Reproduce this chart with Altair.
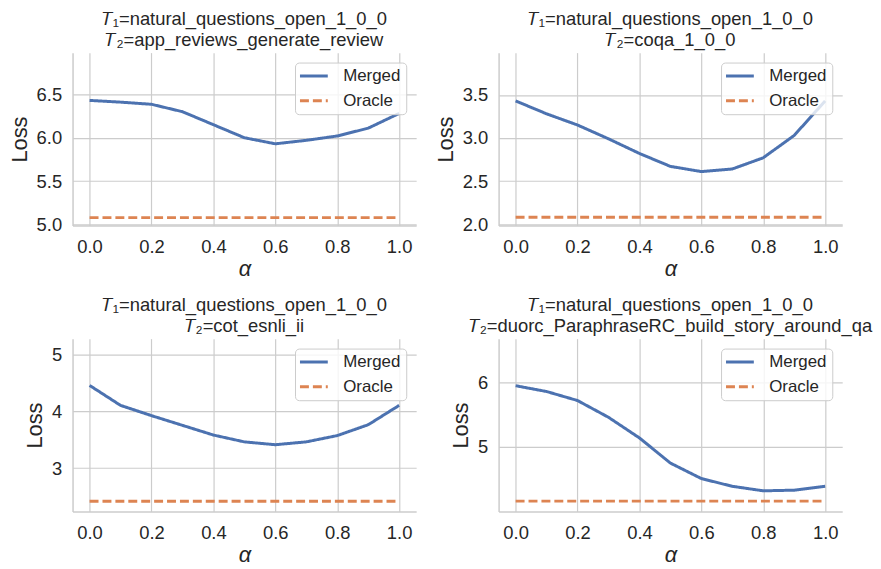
import altair as alt
import pandas as pd

alphas = [0.0, 0.1, 0.2, 0.3, 0.4, 0.5, 0.6, 0.7, 0.8, 0.9, 1.0]
x_ticks = [0.0, 0.2, 0.4, 0.6, 0.8, 1.0]

t1_name = "natural_questions_open_1_0_0"
t2_names = [
    "app_reviews_generate_review",
    "coqa_1_0_0",
    "cot_esnli_ii",
    "duorc_ParaphraseRC_build_story_around_qa",
]

merged_app = [6.43, 6.41, 6.385, 6.30, 6.15, 6.00, 5.93, 5.97, 6.02, 6.11, 6.28]
merged_coqa = [3.43, 3.28, 3.15, 2.99, 2.82, 2.67, 2.61, 2.64, 2.77, 3.03, 3.43]
merged_esnli = [4.45, 4.10, 3.92, 3.75, 3.58, 3.46, 3.41, 3.46, 3.57, 3.76, 4.10]
merged_duorc = [5.95, 5.86, 5.72, 5.46, 5.14, 4.75, 4.51, 4.39, 4.32, 4.33, 4.39]
merged_all = [merged_app, merged_coqa, merged_esnli, merged_duorc]

oracle_values = [5.08, 2.08, 2.42, 4.16]

y_domains = [[4.99, 6.98], [1.985, 3.99], [2.24, 5.27], [4.0, 6.68]]
y_ticks = [[5.0, 5.5, 6.0, 6.5], [2.0, 2.5, 3.0, 3.5], [3, 4, 5], [5, 6]]
y_formats = [".1f", ".1f", "d", "d"]

series_names = ["Merged", "Oracle"]
series_colors = ["#4c72b0", "#dd8452"]


def panel(i):
    rows = [{"alpha": a, "loss": v, "series": "Merged"} for a, v in zip(alphas, merged_all[i])]
    rows += [{"alpha": a, "loss": oracle_values[i], "series": "Oracle"} for a in (alphas[0], alphas[-1])]
    df = pd.DataFrame(rows)
    title = alt.Title(["𝑇₁=" + t1_name, "𝑇₂=" + t2_names[i]])
    return (
        alt.Chart(df, title=title)
        .mark_line(strokeWidth=3)
        .encode(
            x=alt.X(
                "alpha:Q",
                scale=alt.Scale(domain=[-0.055, 1.055], nice=False, zero=False),
                axis=alt.Axis(values=x_ticks, format=".1f", title="α", titleFontStyle="italic"),
            ),
            y=alt.Y(
                "loss:Q",
                scale=alt.Scale(domain=y_domains[i], nice=False, zero=False),
                axis=alt.Axis(values=y_ticks[i], format=y_formats[i], title="Loss"),
            ),
            color=alt.Color(
                "series:N",
                scale=alt.Scale(domain=series_names, range=series_colors),
                legend=alt.Legend(title=None, orient="top-right"),
            ),
            strokeDash=alt.StrokeDash(
                "series:N",
                scale=alt.Scale(domain=series_names, range=[[1, 0], [9, 4]]),
                legend=alt.Legend(title=None, orient="top-right"),
            ),
        )
        .properties(width=346, height=174)
    )


chart = (
    alt.concat(*[panel(i) for i in range(4)], columns=2, spacing={"row": 16, "column": 18})
    .resolve_scale(x="independent", y="independent", color="independent", strokeDash="independent")
    .properties(padding=0)
    .configure(font="Liberation Sans")
    .configure_view(strokeWidth=0)
    .configure_axis(
        labelFontSize=18.5,
        labelColor="#262626",
        titleFontSize=22,
        titleFontWeight="normal",
        titleColor="#262626",
        ticks=False,
        tickSize=0,
        gridColor="#cccccc",
        gridWidth=1.2,
        domainColor="#cccccc",
        domainWidth=1.5,
    )
    .configure_axisX(labelPadding=12, titlePadding=3)
    .configure_axisY(labelPadding=11, titlePadding=5)
    .configure_title(fontSize=18.5, fontWeight="normal", color="#262626", lineHeight=21, offset=3, anchor="middle")
    .configure_legend(
        labelFontSize=17,
        labelColor="#262626",
        symbolType="M-2,0L2,0",
        symbolSize=196,
        symbolStrokeWidth=3,
        symbolOffset=5.5,
        labelOffset=21,
        fillColor="rgba(255,255,255,0.8)",
        strokeColor="#cccccc",
        cornerRadius=4,
        padding=5,
        rowPadding=7,
        offset=10,
    )
)

chart.save("out.html", embed_options={"renderer": "svg", "actions": False})
